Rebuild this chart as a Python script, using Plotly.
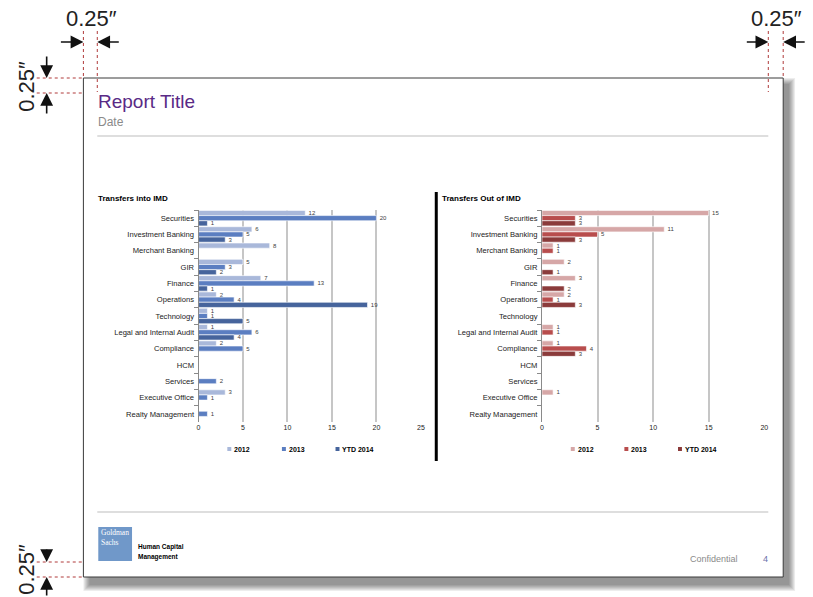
import plotly.graph_objects as go

W, H = 813, 597

categories = ["Securities", "Investment Banking", "Merchant Banking", "GIR", "Finance",
              "Operations", "Technology", "Legal and Internal Audit", "Compliance", "HCM",
              "Services", "Executive Office", "Realty Management"]
series_names = ["2012", "2013", "YTD 2014"]

in_2012 = [12, 6, 8, 5, 7, 2, 1, 1, 2, None, None, 3, None]
in_2013 = [20, 5, None, 3, 13, 4, 1, 6, 5, None, 2, 1, 1]
in_ytd2014 = [1, 3, None, 2, 1, 19, 5, 4, None, None, None, None, None]

out_2012 = [15, 11, 1, 2, 3, 2, None, 1, 1, None, None, 1, None]
out_2013 = [3, 5, 1, None, None, 1, None, 1, 4, None, None, None, None]
out_ytd2014 = [3, 3, None, 1, 2, 3, None, None, 3, None, None, None, None]

in_ticks = [0, 5, 10, 15, 20, 25]
out_ticks = [0, 5, 10, 15, 20]

blue_colors = ["#A9B8DA", "#5B7EC1", "#46649C"]
red_colors = ["#D6A7A7", "#B84D4D", "#8B3B3B"]

FONT = "Arial, Liberation Sans, sans-serif"


def px(x):
    return x / W


def py(y):
    return 1 - y / H


fig = go.Figure()

for vals, name, col in zip([in_2012, in_2013, in_ytd2014], series_names, blue_colors):
    fig.add_trace(go.Bar(
        x=vals, y=categories, orientation="h", name=name, xaxis="x", yaxis="y",
        marker=dict(color=col, line=dict(color="white", width=0.6)),
        texttemplate="  %{x}", textposition="outside", constraintext="none",
        textfont=dict(size=6, color="#404040", family=FONT),
        cliponaxis=False, showlegend=False, hoverinfo="x+y+name"))

for vals, name, col in zip([out_2012, out_2013, out_ytd2014], series_names, red_colors):
    fig.add_trace(go.Bar(
        x=vals, y=categories, orientation="h", name=name, xaxis="x2", yaxis="y2",
        marker=dict(color=col, line=dict(color="white", width=0.6)),
        texttemplate="  %{x}", textposition="outside", constraintext="none",
        textfont=dict(size=6, color="#404040", family=FONT),
        cliponaxis=False, showlegend=False, hoverinfo="x+y+name"))

xcommon = dict(showgrid=True, gridcolor="#C6C6C6", gridwidth=1.5, zeroline=False,
               showline=False, ticks="", tickfont=dict(size=7, color="#222", family=FONT),
               fixedrange=True)
ycommon = dict(autorange="reversed", categoryorder="array", categoryarray=categories,
               showline=True, linecolor="#8A8A8A", linewidth=1, ticks="outside",
               tickson="boundaries", ticklen=4, tickcolor="#8A8A8A", showgrid=False,
               ticklabelstandoff=2,
               tickfont=dict(size=7.6, color="#222", family=FONT), fixedrange=True)

fig.update_layout(
    width=W, height=H, margin=dict(l=0, r=0, t=0, b=0),
    paper_bgcolor="white", plot_bgcolor="rgba(0,0,0,0)",
    barmode="group", bargap=0.05, bargroupgap=0,
    font=dict(family=FONT),
    xaxis=dict(domain=[px(198), px(422)], range=[0, 25], tickvals=in_ticks, anchor="y", **xcommon),
    yaxis=dict(domain=[py(422), py(210)], anchor="x", **ycommon),
    xaxis2=dict(domain=[px(544), px(768)], range=[0, 20], tickvals=out_ticks, anchor="y2", **xcommon),
    yaxis2=dict(domain=[py(422), py(210)], anchor="x2", **ycommon),
)

shapes = []
# frame shadow
for i in range(7):
    e = 6 - i
    shapes.append(dict(type="rect", xref="paper", yref="paper", layer="below",
                       x0=px(82 + 6 - e), x1=px(787 + 6 + e), y0=py(578 + 7 + e), y1=py(78 + 6 - e),
                       line=dict(width=0), fillcolor="rgba(0,0,0,0.07)"))
# frame
shapes.append(dict(type="rect", xref="paper", yref="paper", layer="below",
                   x0=px(82), x1=px(787), y0=py(577), y1=py(78),
                   line=dict(color="#3A3A3A", width=1), fillcolor="white"))
# separator lines
for yy in (136, 512):
    shapes.append(dict(type="line", xref="paper", yref="paper", x0=px(96), x1=px(772),
                       y0=py(yy), y1=py(yy), line=dict(color="#BDBDBD", width=1)))
# black divider between charts
shapes.append(dict(type="line", xref="paper", yref="paper", x0=px(437.5), x1=px(437.5),
                   y0=py(192), y1=py(461), line=dict(color="black", width=3)))
# logo box
shapes.append(dict(type="rect", xref="paper", yref="paper", x0=px(97), x1=px(131),
                   y0=py(561), y1=py(527), line=dict(width=0), fillcolor="#7098C9"))
# dashed red guide lines
dash_col = "#B03A3A"
dash_style = dict(color=dash_col, width=1, dash="3px,3px")
for xx in (82, 96):
    shapes.append(dict(type="line", xref="paper", yref="paper", x0=px(xx), x1=px(xx),
                       y0=py(31), y1=py(78 if xx == 82 else 92), line=dash_style))
for xx in (772, 787):
    shapes.append(dict(type="line", xref="paper", yref="paper", x0=px(xx), x1=px(xx),
                       y0=py(31), y1=py(78 if xx == 787 else 92), line=dash_style))
for yy in (78, 93, 562, 577):
    shapes.append(dict(type="line", xref="paper", yref="paper", x0=px(35), x1=px(82),
                       y0=py(yy), y1=py(yy), line=dash_style))

# legend keys
leg_blue_x = [229, 284, 338]
leg_red_x = [575, 629, 683]
for xs, cols in ((leg_blue_x, blue_colors), (leg_red_x, red_colors)):
    for xx, col in zip(xs, cols):
        shapes.append(dict(type="rect", xref="paper", yref="paper", x0=px(xx - 2), x1=px(xx + 2),
                           y0=py(451), y1=py(447), line=dict(width=0), fillcolor=col))

fig.update_layout(shapes=shapes)

ann = []


def text(x, y, s, size, color="#000", xanchor="left", yanchor="middle", family=FONT, angle=0,
         align="center"):
    ann.append(dict(xref="paper", yref="paper", x=px(x), y=py(y), text=s, showarrow=False,
                    xanchor=xanchor, yanchor=yanchor, textangle=angle, align=align,
                    font=dict(size=size, color=color, family=family)))


text(95, 101, "Report Title", 19, color="#5A2A86")
text(95, 122, "Date", 12, color="#8A8A8A")
text(95, 198, "<b>Transfers into IMD</b>", 8)
text(441, 198, "<b>Transfers Out of IMD</b>", 8)

for xs, names in ((leg_blue_x, series_names), (leg_red_x, series_names)):
    for xx, nm in zip(xs, names):
        text(xx + 3, 449, "<b>" + nm + "</b>", 7)

text(98, 526, "Goldman<br>Sachs", 7.5, color="white", yanchor="top", align="left",
     family="Liberation Serif, DejaVu Serif, serif")
text(135, 547, "<b>Human Capital</b>", 6.5)
text(135, 557, "<b>Management</b>", 6.5)
text(717, 559, "Confidential", 9, color="#8A8A8A", xanchor="center")
text(769, 559, "4", 9, color="#6A70AA", xanchor="center")

text(90, 18, "0.25″", 22, color="#222", xanchor="center")
text(780, 18, "0.25″", 22, color="#222", xanchor="center")
text(24, 86, "0.25″", 22, color="#222", xanchor="center", angle=-90)
text(24, 569, "0.25″", 22, color="#222", xanchor="center", angle=-90)

# dimension arrows
arrows = [
    (82, 42, -24, 0), (96, 42, 23, 0),
    (772, 42, -23, 0), (787, 42, 23, 0),
    (45, 78, 0, -23), (45, 93, 0, 22),
    (45, 562, 0, -14), (45, 577, 0, 20),
]
for hx, hy, ax, ay in arrows:
    ann.append(dict(xref="paper", yref="paper", x=px(hx), y=py(hy), ax=ax, ay=ay,
                    axref="pixel", ayref="pixel", text="", showarrow=True,
                    arrowhead=2, arrowsize=1.6, arrowwidth=1.6, arrowcolor="#111"))

fig.update_layout(annotations=ann)

fig.write_html("out.html", config={"displayModeBar": False},
               post_script="document.body.style.margin='0';")
